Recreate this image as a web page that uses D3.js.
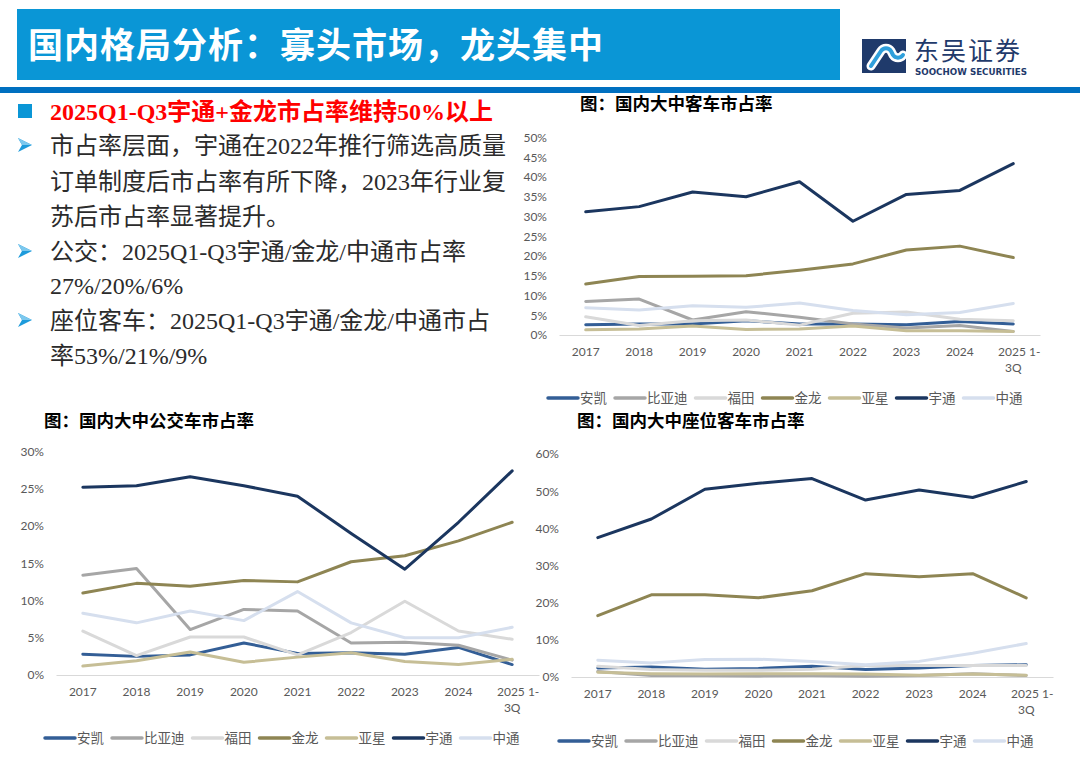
<!DOCTYPE html>
<html>
<head>
<meta charset="utf-8">
<script src="https://cdn.jsdelivr.net/npm/d3@7"></script>
<style>
  body { margin: 0; background: #fff; }
  svg { display: block; }
</style>
</head>
<body>
<svg width="1080" height="761"></svg>
<script>
  // categories
  var years = ["2017", "2018", "2019", "2020", "2021", "2022", "2023", "2024", "2025 1-3Q"];
  var brands = ["安凯", "比亚迪", "福田", "金龙", "亚星", "宇通", "中通"];

  // 大中客车市占率 (%), rows in brand order
  var coachShare = [
    [2.6, 2.8, 2.8, 3.6, 2.8, 2.8, 2.6, 3.4, 2.8],        // 安凯
    [8.5, 9.1, 3.8, 5.9, 4.5, 2.8, 1.8, 2.4, 0.9],        // 比亚迪
    [4.6, 2.4, 3.6, 3.8, 2.5, 5.5, 5.8, 4.0, 3.6],        // 福田
    [12.9, 14.8, 14.9, 15.0, 16.4, 18.0, 21.5, 22.5, 19.6], // 金龙
    [1.3, 1.5, 2.3, 1.4, 1.5, 2.3, 1.1, 1.1, 0.9],        // 亚星
    [31.2, 32.5, 36.2, 35.0, 38.8, 28.8, 35.6, 36.6, 43.4], // 宇通
    [6.9, 6.3, 7.4, 7.0, 8.1, 6.2, 5.1, 5.7, 8.0]         // 中通
  ];

  // 大中公交车市占率 (%)
  var busShare = [
    [2.8, 2.5, 2.7, 4.3, 2.9, 3.0, 2.8, 3.7, 1.4],
    [13.4, 14.3, 6.1, 8.8, 8.6, 4.3, 4.4, 4.0, 2.0],
    [5.9, 2.6, 5.1, 5.1, 2.7, 5.7, 9.9, 5.9, 4.8],
    [11.0, 12.3, 11.9, 12.7, 12.5, 15.2, 16.0, 18.0, 20.5],
    [1.2, 1.9, 3.1, 1.7, 2.4, 3.0, 1.8, 1.4, 2.1],
    [25.2, 25.4, 26.6, 25.4, 24.0, 19.0, 14.2, 20.5, 27.4],
    [8.3, 7.0, 8.6, 7.3, 11.2, 7.0, 5.0, 5.0, 6.4]
  ];

  // 大中座位客车市占率 (%)
  var seatShare = [
    [2.4, 2.7, 2.1, 2.3, 2.9, 2.0, 2.4, 3.1, 3.3],
    [1.5, 0.4, 0.4, 0.3, 0.4, 0.2, 0.4, 0.9, 0.4],
    [2.9, 2.0, 1.8, 1.8, 2.1, 3.1, 3.1, 3.1, 3.1],
    [16.5, 22.1, 22.1, 21.3, 23.2, 27.8, 27.0, 27.8, 21.3],
    [1.3, 0.9, 0.8, 0.9, 0.9, 0.8, 0.5, 0.8, 0.5],
    [37.5, 42.5, 50.5, 52.1, 53.4, 47.6, 50.3, 48.3, 52.6],
    [4.5, 3.8, 4.7, 4.8, 4.2, 3.3, 4.2, 6.4, 9.0]
  ];

  var colors = ["#335E96", "#A6A6A6", "#D9D9D9", "#8E8553", "#C6BE96", "#1B365F", "#D6DFEE"];

  var svg = d3.select("svg");
  var cjk = "'Noto Sans CJK SC', sans-serif";
  var mixed = "'Liberation Serif', 'Noto Sans CJK SC', serif";

  // ---- header ----
  svg.append("rect").attr("x", 17).attr("y", 9).attr("width", 823).attr("height", 71).attr("fill", "#0A96D6");
  svg.append("text")
    .attr("x", 28).attr("y", 45).attr("dy", "0.36em")
    .attr("fill", "#fff")
    .style("font", "bold 35px " + cjk)
    .style("letter-spacing", "1px")
    .text("国内格局分析：寡头市场，龙头集中");
  svg.append("rect").attr("x", 0).attr("y", 87).attr("width", 1080).attr("height", 6).attr("fill", "#0070C0");

  // logo
  var logo = svg.append("g").attr("transform", "translate(862,39)");
  logo.append("rect").attr("width", 44).attr("height", 34).attr("fill", "#1F3A6B");
  logo.append("path")
    .attr("d", "M9,27 L19,12 A6,6 0 0 1 29,12 L31,16 A6,6 0 0 0 41,16")
    .attr("fill", "none").attr("stroke", "#fff").attr("stroke-width", 9).attr("stroke-linecap", "round");
  logo.append("path")
    .attr("d", "M9,27 L19,12 A6,6 0 0 1 29,12 L31,16 A6,6 0 0 0 41,16")
    .attr("fill", "none").attr("stroke", "#2F9FDB").attr("stroke-width", 4).attr("stroke-linecap", "round");
  svg.append("text").attr("x", 914).attr("y", 51).attr("dy", "0.36em")
    .attr("fill", "#1F3A6B").style("font", "25px " + cjk).style("letter-spacing", "2px").text("东吴证券");
  svg.append("text").attr("x", 915).attr("y", 72).attr("dy", "0.36em")
    .attr("textLength", 112).attr("lengthAdjust", "spacingAndGlyphs")
    .attr("fill", "#1F3A6B").style("font", "bold 8.5px 'DejaVu Sans', sans-serif").text("SOOCHOW SECURITIES");

  // ---- text block ----
  svg.append("rect").attr("x", 18).attr("y", 104).attr("width", 14).attr("height", 14).attr("fill", "#0A96D6");
  svg.append("text").attr("x", 50).attr("y", 111).attr("dy", "0.36em")
    .attr("fill", "#FF0000").style("font", "bold 24px " + mixed)
    .text("2025Q1-Q3宇通+金龙市占率维持50%以上");

  var bodyLines = [
    { y: 145, arrow: true, t: "市占率层面，宇通在2022年推行筛选高质量" },
    { y: 181, arrow: false, t: "订单制度后市占率有所下降，2023年行业复" },
    { y: 216, arrow: false, t: "苏后市占率显著提升。" },
    { y: 251, arrow: true, t: "公交：2025Q1-Q3宇通/金龙/中通市占率" },
    { y: 285, arrow: false, t: "27%/20%/6%" },
    { y: 320, arrow: true, t: "座位客车：2025Q1-Q3宇通/金龙/中通市占" },
    { y: 355, arrow: false, t: "率53%/21%/9%" }
  ];
  bodyLines.forEach(function (l) {
    if (l.arrow) {
      var a = svg.append("g").attr("transform", "translate(18," + (l.y - 7) + ")");
      a.append("path").attr("d", "M0,0 L14,7 L0,14 L4,7 Z").attr("fill", "#1E9BDB");
      a.append("path").attr("d", "M0,0 L14,7 L4,7 Z").attr("fill", "#7CC8EE");
    }
    svg.append("text").attr("x", 50).attr("y", l.y).attr("dy", "0.36em")
      .attr("fill", "#2B2B2B").style("font", "24px " + mixed).text(l.t);
  });

  // ---- charts ----
  function drawChart(o) {
    var x = d3.scalePoint().domain(years).range([o.left, o.right]).padding(0.5);
    var y = d3.scaleLinear().domain([0, o.max]).range([o.bottom, o.top]);
    var g = svg.append("g");

    g.append("text").attr("x", o.titleX).attr("y", o.titleY).attr("dy", "0.36em")
      .attr("fill", "#000").style("font", "bold 17.5px " + cjk).text(o.title);

    var ya = g.append("g")
      .attr("transform", "translate(" + (o.left - 12) + ",0)")
      .call(d3.axisLeft(y).tickValues(d3.range(0, o.max + 0.1, o.step))
        .tickSize(0).tickPadding(0).tickFormat(function (d) { return d + "%"; }));
    ya.select(".domain").remove();
    ya.selectAll("text").attr("fill", "#595959").style("font", "12px Lato, sans-serif");

    var xa = g.append("g")
      .attr("transform", "translate(0," + o.bottom + ")")
      .call(d3.axisBottom(x).tickSize(0).tickFormat(""));
    xa.select(".domain").attr("stroke", "#D9D9D9").attr("stroke-width", 1);

    years.forEach(function (yr) {
      var t = g.append("text").attr("x", x(yr)).attr("y", o.bottom + 17).attr("dy", "0.36em")
        .attr("text-anchor", "middle").attr("fill", "#595959").style("font", "12px Lato, sans-serif");
      var i = yr.indexOf("1-");
      if (i > 0) {
        t.append("tspan").attr("x", x(yr) + 6).text(yr.slice(0, i + 2));
        t.append("tspan").attr("x", x(yr)).attr("dy", 16).text(yr.slice(i + 2));
      } else {
        t.text(yr);
      }
    });

    var line = d3.line()
      .x(function (d, i) { return x(years[i]); })
      .y(function (d) { return y(d); });

    g.selectAll(".series")
      .data(o.data)
      .enter()
      .append("path")
      .attr("d", line)
      .attr("fill", "none")
      .attr("stroke", function (d, i) { return colors[i]; })
      .attr("stroke-width", 3)
      .attr("stroke-linejoin", "round")
      .attr("stroke-linecap", "round");

    // legend
    var lg = g.append("g").attr("transform", "translate(" + o.legendX + "," + o.legendY + ")");
    var cx = 0;
    brands.forEach(function (b, i) {
      lg.append("line").attr("x1", cx).attr("x2", cx + 30).attr("y1", 0).attr("y2", 0)
        .attr("stroke", colors[i]).attr("stroke-width", 3.5).attr("stroke-linecap", "round");
      var t = lg.append("text").attr("x", cx + 32).attr("y", 0).attr("dy", "0.36em")
        .attr("fill", "#595959").style("font", "13.5px " + cjk).text(b);
      cx += 32 + t.node().getComputedTextLength() + 8;
    });
  }

  drawChart({
    title: "图：国内大中客车市占率", titleX: 580, titleY: 104,
    data: coachShare, max: 50, step: 5,
    left: 559, right: 1040, top: 137.5, bottom: 335,
    legendX: 548, legendY: 398
  });
  drawChart({
    title: "图：国内大中公交车市占率", titleX: 44, titleY: 421,
    data: busShare, max: 30, step: 5,
    left: 56, right: 539, top: 451.5, bottom: 675,
    legendX: 45, legendY: 738
  });
  drawChart({
    title: "图：国内大中座位客车市占率", titleX: 577, titleY: 421,
    data: seatShare, max: 60, step: 10,
    left: 571, right: 1053, top: 454, bottom: 677,
    legendX: 559, legendY: 741
  });
</script>
</body>
</html>
